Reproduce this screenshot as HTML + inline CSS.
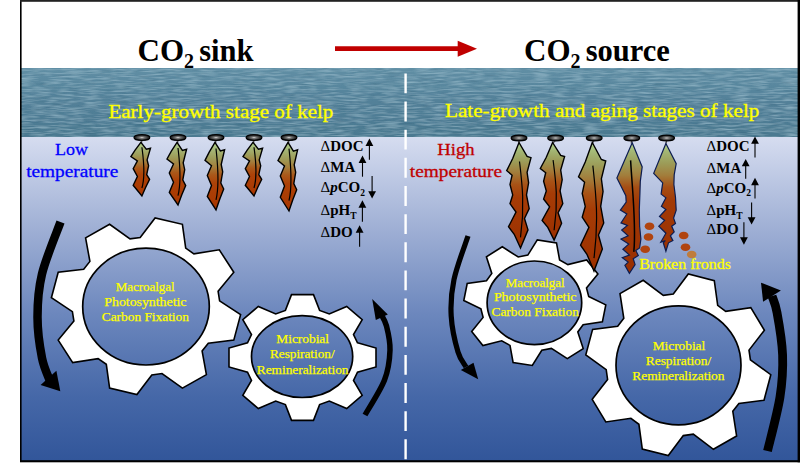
<!DOCTYPE html>
<html><head><meta charset="utf-8"><title>Kelp CO2 sink / source</title>
<style>
html,body{margin:0;padding:0;background:#fff;}
body{width:800px;height:468px;overflow:hidden;font-family:"Liberation Serif",serif;}
svg{display:block;}
text{font-family:"Liberation Serif",serif;}
.b{font-weight:bold;}
.y{fill:#ffff00;}
</style></head><body>
<svg width="800" height="468" viewBox="0 0 800 468">
<defs>
<linearGradient id="seaU" gradientUnits="userSpaceOnUse" x1="0" y1="136" x2="0" y2="460">
<stop offset="0" stop-color="#d6ddf0"/>
<stop offset="0.25" stop-color="#a6b5d8"/>
<stop offset="0.55" stop-color="#6c87bd"/>
<stop offset="0.8" stop-color="#4668a8"/>
<stop offset="1" stop-color="#32569a"/>
</linearGradient>
<linearGradient id="kg" x1="0" y1="0" x2="0" y2="1">
<stop offset="0" stop-color="#b0d28a"/>
<stop offset="0.12" stop-color="#a4b474"/>
<stop offset="0.24" stop-color="#9e9c58"/>
<stop offset="0.36" stop-color="#a47e3c"/>
<stop offset="0.48" stop-color="#aa581a"/>
<stop offset="0.6" stop-color="#ac4208"/>
<stop offset="1" stop-color="#a83600"/>
</linearGradient>
<linearGradient id="kg2" x1="0" y1="0" x2="0" y2="1">
<stop offset="0" stop-color="#b0d28a"/>
<stop offset="0.09" stop-color="#a2b472"/>
<stop offset="0.18" stop-color="#9c9c58"/>
<stop offset="0.28" stop-color="#a27e3c"/>
<stop offset="0.4" stop-color="#a85216"/>
<stop offset="0.52" stop-color="#a63c06"/>
<stop offset="1" stop-color="#9c3000"/>
</linearGradient>
<linearGradient id="kgA" gradientUnits="userSpaceOnUse" x1="0" y1="142" x2="0" y2="275">
<stop offset="0" stop-color="#b0d28a"/>
<stop offset="0.08" stop-color="#a2b472"/>
<stop offset="0.16" stop-color="#9c9c58"/>
<stop offset="0.25" stop-color="#a27e3c"/>
<stop offset="0.34" stop-color="#a64e14"/>
<stop offset="0.44" stop-color="#a23a06"/>
<stop offset="1" stop-color="#982e00"/>
</linearGradient>
<radialGradient id="fl" cx="0.5" cy="0.5" r="0.55">
<stop offset="0" stop-color="#d0d0d0"/>
<stop offset="0.3" stop-color="#747474"/>
<stop offset="0.7" stop-color="#303030"/>
<stop offset="1" stop-color="#141414"/>
</radialGradient>
<linearGradient id="wv" x1="0" y1="0" x2="0" y2="1">
<stop offset="0" stop-color="#618fa5"/>
<stop offset="0.45" stop-color="#538199"/>
<stop offset="1" stop-color="#4b7990"/>
</linearGradient>
<filter id="waves" x="0" y="0" width="100%" height="100%">
<feTurbulence type="fractalNoise" baseFrequency="0.06 0.55" numOctaves="2" seed="11" result="n"/>
<feColorMatrix in="n" type="matrix" values="0 0 0 0 0  0 0 0 0 0  0 0 0 0 0  1.3 0 0 0 -0.52" result="a"/>
<feFlood flood-color="#9cc0d0"/>
<feComposite in2="a" operator="in" result="hi"/>
<feColorMatrix in="n" type="matrix" values="0 0 0 0 0  0 0 0 0 0  0 0 0 0 0  0 -1.3 0 0 0.52" result="a2"/>
<feFlood flood-color="#2e5c74"/>
<feComposite in2="a2" operator="in" result="lo"/>
<feMerge><feMergeNode in="SourceGraphic"/><feMergeNode in="hi"/><feMergeNode in="lo"/></feMerge>
</filter>
<clipPath id="wclip"><rect x="21" y="68" width="778" height="68.9"/></clipPath>
</defs>
<rect x="0" y="0" width="800" height="468" fill="#fff"/>
<rect x="21" y="136" width="778" height="325.5" fill="url(#seaU)"/>
<g clip-path="url(#wclip)"><rect x="21" y="68" width="778" height="70" fill="url(#wv)" filter="url(#waves)"/></g>
<line x1="405.6" y1="73.4" x2="405.6" y2="459.5" stroke="#fff" stroke-width="2.4" stroke-dasharray="19.9 8.25"/>
<text class="b" x="137.5" y="61" font-size="31">CO<tspan font-size="20" dy="6.5">2</tspan><tspan dy="-6.5" dx="-2.5" font-size="30.5"> sink</tspan></text>
<text class="b" x="524" y="61" font-size="31">CO<tspan font-size="20" dy="6.5">2</tspan><tspan dy="-6.5" dx="-2.5" font-size="30.5"> source</tspan></text>
<line x1="335" y1="48.7" x2="459" y2="48.7" stroke="#c00000" stroke-width="4.8"/>
<path d="M477 48.8 L457.7 40.8 L457.7 56.8 Z" fill="#c00000"/>
<text class="y" stroke="#ffff00" stroke-width="0.35" x="108.4" y="117.5" font-size="19.5" textLength="225.0" lengthAdjust="spacingAndGlyphs">Early-growth stage of kelp</text>
<text class="y" stroke="#ffff00" stroke-width="0.35" x="445.0" y="117.2" font-size="19.5" textLength="314.4" lengthAdjust="spacingAndGlyphs">Late-growth and aging stages of kelp</text>
<text fill="#0000ff" stroke="#0000ff" stroke-width="0.30" x="55.1" y="155.3" font-size="17.5" textLength="33.0" lengthAdjust="spacingAndGlyphs">Low</text>
<text fill="#0000ff" stroke="#0000ff" stroke-width="0.30" x="26.2" y="177.0" font-size="17.5" textLength="92.1" lengthAdjust="spacingAndGlyphs">temperature</text>
<text fill="#c00000" stroke="#c00000" stroke-width="0.30" x="437.3" y="155.3" font-size="17.5" textLength="37.2" lengthAdjust="spacingAndGlyphs">High</text>
<text fill="#c00000" stroke="#c00000" stroke-width="0.30" x="409.8" y="177.0" font-size="17.5" textLength="92.2" lengthAdjust="spacingAndGlyphs">temperature</text>
<path d="M219.6 300.8 L240.6 314.7 L233.8 340.1 L208.3 343.2 L202.1 351.0 L206.4 374.6 L182.4 388.1 L162.0 373.5 L151.8 374.9 L136.9 394.5 L109.6 388.1 L106.3 364.3 L98.1 358.6 L72.7 362.6 L58.2 340.1 L73.9 321.1 L72.4 311.6 L51.4 297.7 L58.2 272.3 L83.7 269.2 L89.9 261.4 L85.6 237.8 L109.6 224.3 L130.0 238.9 L140.2 237.5 L155.1 217.9 L182.4 224.3 L185.7 248.1 L193.9 253.8 L219.3 249.8 L233.8 272.3 L218.1 291.3 Z" fill="#fff" stroke="#000" stroke-width="1.6" stroke-linejoin="miter"/>
<ellipse cx="146.0" cy="306.6" rx="63.3" ry="58.4" fill="url(#seaU)" stroke="#000" stroke-width="1.7"/>
<path d="M357.5 342.8 L376.0 348.1 L376.0 366.9 L357.5 372.2 L353.5 380.4 L362.2 395.3 L346.7 408.6 L329.3 401.1 L319.6 404.6 L313.5 420.4 L291.5 420.4 L285.4 404.6 L275.7 401.1 L258.3 408.6 L242.8 395.3 L251.5 380.4 L247.5 372.2 L229.0 366.9 L229.0 348.1 L247.5 342.8 L251.5 334.6 L242.8 319.7 L258.3 306.4 L275.7 313.9 L285.4 310.4 L291.5 294.6 L313.5 294.6 L319.6 310.4 L329.3 313.9 L346.7 306.4 L362.2 319.7 L353.5 334.6 Z" fill="#fff" stroke="#000" stroke-width="1.6" stroke-linejoin="miter"/>
<ellipse cx="302.1" cy="356.6" rx="50.6" ry="40.9" fill="url(#seaU)" stroke="#000" stroke-width="1.7"/>
<path d="M588.7 296.5 L605.8 304.9 L602.4 321.9 L583.1 324.7 L577.8 332.0 L583.2 348.6 L567.3 358.6 L551.4 348.4 L541.8 350.3 L532.3 365.5 L513.1 362.5 L510.0 345.4 L501.7 340.8 L482.9 345.5 L471.7 331.4 L483.1 317.4 L480.9 308.9 L463.8 300.5 L467.2 283.5 L486.5 280.7 L491.8 273.4 L486.4 256.8 L502.3 246.8 L518.2 257.0 L527.8 255.1 L537.3 239.9 L556.5 242.9 L559.6 260.0 L567.9 264.6 L586.7 259.9 L597.9 274.0 L586.5 288.0 Z" fill="#fff" stroke="#000" stroke-width="1.6" stroke-linejoin="miter"/>
<ellipse cx="534.4" cy="302.8" rx="47.3" ry="41.8" fill="url(#seaU)" stroke="#000" stroke-width="1.7"/>
<path d="M750.4 359.9 L770.8 374.7 L764.0 400.2 L738.9 403.4 L732.8 411.3 L736.6 436.0 L713.4 449.3 L693.3 434.2 L683.3 435.6 L668.3 455.6 L642.3 449.0 L638.9 424.3 L630.9 418.3 L605.8 422.0 L592.2 399.3 L607.6 379.5 L606.2 369.7 L585.8 354.9 L592.6 329.4 L617.7 326.2 L623.8 318.3 L620.0 293.6 L643.2 280.3 L663.3 295.4 L673.3 294.0 L688.3 274.0 L714.3 280.6 L717.7 305.3 L725.7 311.3 L750.8 307.6 L764.4 330.3 L749.0 350.1 Z" fill="#fff" stroke="#000" stroke-width="1.6" stroke-linejoin="miter"/>
<ellipse cx="678.5" cy="365.3" rx="62.5" ry="59.5" fill="url(#seaU)" stroke="#000" stroke-width="1.7"/>
<text class="y" stroke="#ffff00" stroke-width="0.25" x="115.7" y="291.1" font-size="12.2" textLength="59.0" lengthAdjust="spacingAndGlyphs">Macroalgal</text>
<text class="y" stroke="#ffff00" stroke-width="0.25" x="104.3" y="306.4" font-size="12.2" textLength="82.2" lengthAdjust="spacingAndGlyphs">Photosynthetic</text>
<text class="y" stroke="#ffff00" stroke-width="0.25" x="101.8" y="321.4" font-size="12.2" textLength="87.1" lengthAdjust="spacingAndGlyphs">Carbon Fixation</text>
<text class="y" stroke="#ffff00" stroke-width="0.25" x="276.3" y="342.8" font-size="12.2" textLength="52.7" lengthAdjust="spacingAndGlyphs">Microbial</text>
<text class="y" stroke="#ffff00" stroke-width="0.25" x="270.0" y="358.3" font-size="12.2" textLength="64.6" lengthAdjust="spacingAndGlyphs">Respiration/</text>
<text class="y" stroke="#ffff00" stroke-width="0.25" x="256.8" y="373.6" font-size="12.2" textLength="91.7" lengthAdjust="spacingAndGlyphs">Remineralization</text>
<text class="y" stroke="#ffff00" stroke-width="0.25" x="505.7" y="286.5" font-size="12.2" textLength="59.0" lengthAdjust="spacingAndGlyphs">Macroalgal</text>
<text class="y" stroke="#ffff00" stroke-width="0.25" x="493.9" y="301.4" font-size="12.2" textLength="82.6" lengthAdjust="spacingAndGlyphs">Photosynthetic</text>
<text class="y" stroke="#ffff00" stroke-width="0.25" x="491.5" y="316.4" font-size="12.2" textLength="87.4" lengthAdjust="spacingAndGlyphs">Carbon Fixation</text>
<text class="y" stroke="#ffff00" stroke-width="0.25" x="652.7" y="349.8" font-size="12.2" textLength="52.5" lengthAdjust="spacingAndGlyphs">Microbial</text>
<text class="y" stroke="#ffff00" stroke-width="0.25" x="645.8" y="364.8" font-size="12.2" textLength="65.4" lengthAdjust="spacingAndGlyphs">Respiration/</text>
<text class="y" stroke="#ffff00" stroke-width="0.25" x="632.3" y="380.0" font-size="12.2" textLength="92.2" lengthAdjust="spacingAndGlyphs">Remineralization</text>
<text class="y" stroke="#ffff00" stroke-width="0.30" x="639.2" y="268.8" font-size="15.5" textLength="91.8" lengthAdjust="spacingAndGlyphs">Broken fronds</text>
<line x1="141.9" y1="139.6" x2="141.4" y2="143.1" stroke="#555" stroke-width="1.4"/><ellipse cx="141.9" cy="137.6" rx="7.9" ry="2.9" fill="url(#fl)" stroke="#000" stroke-width="1.2"/>
<g transform="translate(140.9 142.4) scale(1.000 0.536)"><path d="M0 0 L5.4 12.7 L9.6 10.9 L6.2 32.7 L7.7 43.6 L5.8 60 L8.7 69 L4.8 83.6 L1 100 L-7.7 80 L-3.5 63.6 L-7.7 49 L-3.5 34.5 L-10 26.5 L-5.8 14.5 Z" fill="url(#kg)" stroke="#000" stroke-width="1.4" vector-effect="non-scaling-stroke" stroke-linejoin="miter"/><path d="M1 9 C2.5 30 5 60 1 85" fill="none" stroke="#000" stroke-width="1.2" vector-effect="non-scaling-stroke"/></g>
<line x1="178.0" y1="139.6" x2="177.5" y2="143.1" stroke="#555" stroke-width="1.4"/><ellipse cx="178.0" cy="137.6" rx="7.9" ry="2.9" fill="url(#fl)" stroke="#000" stroke-width="1.2"/>
<g transform="translate(177.0 142.4) scale(1.000 0.626)"><path d="M0 0 L5.4 12.7 L9.6 10.9 L6.2 32.7 L7.7 43.6 L5.8 60 L8.7 69 L4.8 83.6 L1 100 L-7.7 80 L-3.5 63.6 L-7.7 49 L-3.5 34.5 L-10 26.5 L-5.8 14.5 Z" fill="url(#kg)" stroke="#000" stroke-width="1.4" vector-effect="non-scaling-stroke" stroke-linejoin="miter"/><path d="M1 9 C2.5 30 5 60 1 85" fill="none" stroke="#000" stroke-width="1.2" vector-effect="non-scaling-stroke"/></g>
<line x1="216.0" y1="139.6" x2="215.5" y2="143.1" stroke="#555" stroke-width="1.4"/><ellipse cx="216.0" cy="137.6" rx="7.9" ry="2.9" fill="url(#fl)" stroke="#000" stroke-width="1.2"/>
<g transform="translate(215.0 142.4) scale(1.000 0.676)"><path d="M0 0 L5.4 12.7 L9.6 10.9 L6.2 32.7 L7.7 43.6 L5.8 60 L8.7 69 L4.8 83.6 L1 100 L-7.7 80 L-3.5 63.6 L-7.7 49 L-3.5 34.5 L-10 26.5 L-5.8 14.5 Z" fill="url(#kg)" stroke="#000" stroke-width="1.4" vector-effect="non-scaling-stroke" stroke-linejoin="miter"/><path d="M1 9 C2.5 30 5 60 1 85" fill="none" stroke="#000" stroke-width="1.2" vector-effect="non-scaling-stroke"/></g>
<line x1="254.0" y1="139.6" x2="253.5" y2="143.1" stroke="#555" stroke-width="1.4"/><ellipse cx="254.0" cy="137.6" rx="7.9" ry="2.9" fill="url(#fl)" stroke="#000" stroke-width="1.2"/>
<g transform="translate(253.0 142.4) scale(1.000 0.536)"><path d="M0 0 L5.4 12.7 L9.6 10.9 L6.2 32.7 L7.7 43.6 L5.8 60 L8.7 69 L4.8 83.6 L1 100 L-7.7 80 L-3.5 63.6 L-7.7 49 L-3.5 34.5 L-10 26.5 L-5.8 14.5 Z" fill="url(#kg)" stroke="#000" stroke-width="1.4" vector-effect="non-scaling-stroke" stroke-linejoin="miter"/><path d="M1 9 C2.5 30 5 60 1 85" fill="none" stroke="#000" stroke-width="1.2" vector-effect="non-scaling-stroke"/></g>
<line x1="289.0" y1="139.6" x2="288.5" y2="143.1" stroke="#555" stroke-width="1.4"/><ellipse cx="289.0" cy="137.6" rx="7.9" ry="2.9" fill="url(#fl)" stroke="#000" stroke-width="1.2"/>
<g transform="translate(288.0 142.4) scale(1.000 0.686)"><path d="M0 0 L5.4 12.7 L9.6 10.9 L6.2 32.7 L7.7 43.6 L5.8 60 L8.7 69 L4.8 83.6 L1 100 L-7.7 80 L-3.5 63.6 L-7.7 49 L-3.5 34.5 L-10 26.5 L-5.8 14.5 Z" fill="url(#kg)" stroke="#000" stroke-width="1.4" vector-effect="non-scaling-stroke" stroke-linejoin="miter"/><path d="M1 9 C2.5 30 5 60 1 85" fill="none" stroke="#000" stroke-width="1.2" vector-effect="non-scaling-stroke"/></g>
<line x1="519.0" y1="140.0" x2="519.0" y2="143.5" stroke="#555" stroke-width="1.4"/><ellipse cx="519.0" cy="138.0" rx="7.9" ry="2.9" fill="url(#fl)" stroke="#000" stroke-width="1.2"/>
<g transform="translate(519.0 142.5) scale(1.000 1.055)"><path d="M0 0 L8.1 13.2 L12 14.4 L8.1 28.2 L9.6 38.2 L7.5 49.7 L10.2 62.6 L5.5 72 L9 82.8 L1.5 100 L-4.8 87 L-10.5 79.9 L-3 66 L-9 58 L-6.3 49.7 L-9 39.7 L-6.9 31 L-12.3 26.7 L-6.3 15.2 Z" fill="url(#kg2)" stroke="#000" stroke-width="1.4" vector-effect="non-scaling-stroke" stroke-linejoin="miter"/><path d="M0.5 18 C3 38 6 60 1.5 90" fill="none" stroke="#000" stroke-width="1.2" vector-effect="non-scaling-stroke"/></g>
<line x1="555.6" y1="140.0" x2="552.6" y2="143.5" stroke="#555" stroke-width="1.4"/><ellipse cx="555.6" cy="138.0" rx="7.9" ry="2.9" fill="url(#fl)" stroke="#000" stroke-width="1.2"/>
<g transform="translate(552.6 142.5) scale(1.000 0.975)"><path d="M0 0 L8.1 13.2 L12 14.4 L8.1 28.2 L9.6 38.2 L7.5 49.7 L10.2 62.6 L5.5 72 L9 82.8 L1.5 100 L-4.8 87 L-10.5 79.9 L-3 66 L-9 58 L-6.3 49.7 L-9 39.7 L-6.9 31 L-12.3 26.7 L-6.3 15.2 Z" fill="url(#kg2)" stroke="#000" stroke-width="1.4" vector-effect="non-scaling-stroke" stroke-linejoin="miter"/><path d="M0.5 18 C3 38 6 60 1.5 90" fill="none" stroke="#000" stroke-width="1.2" vector-effect="non-scaling-stroke"/></g>
<line x1="594.2" y1="140.0" x2="592.3" y2="143.5" stroke="#555" stroke-width="1.4"/><ellipse cx="594.2" cy="138.0" rx="7.9" ry="2.9" fill="url(#fl)" stroke="#000" stroke-width="1.2"/>
<g transform="translate(592.3 142.5) scale(1.120 1.285)"><path d="M0 0 L8.1 13.2 L12 14.4 L8.1 28.2 L9.6 38.2 L7.5 49.7 L10.2 62.6 L5.5 72 L9 82.8 L1.5 100 L-4.8 87 L-10.5 79.9 L-3 66 L-9 58 L-6.3 49.7 L-9 39.7 L-6.9 31 L-12.3 26.7 L-6.3 15.2 Z" fill="url(#kg2)" stroke="#000" stroke-width="1.4" vector-effect="non-scaling-stroke" stroke-linejoin="miter"/><path d="M0.5 18 C3 38 6 60 1.5 90" fill="none" stroke="#000" stroke-width="1.2" vector-effect="non-scaling-stroke"/></g>
<line x1="631.8" y1="140.0" x2="631.3" y2="143.5" stroke="#555" stroke-width="1.4"/><ellipse cx="631.8" cy="138.0" rx="7.9" ry="2.9" fill="url(#fl)" stroke="#000" stroke-width="1.2"/>
<path d="M632.2 142.8 L642.2 166.9 L640.3 181.3 L639.9 194.1 L639.3 210.1 L639.6 226.2 L640.9 239.0 L639.6 247.9 L635.8 250.5 L638.3 255.6 L633.2 258.8 L635.1 264.6 L629.4 273.3 L624.9 265.3 L628.1 262.1 L622.3 257.6 L629.4 255.0 L622.9 249.2 L628.7 244.1 L621.0 239.0 L628.1 235.8 L621.7 230.0 L627.4 225.5 L621.0 222.9 L626.8 214.0 L620.4 210.1 L626.2 202.1 L625.8 195.7 L616.9 178.1 Z" fill="url(#kgA)" stroke="#0c1c50" stroke-width="1.2" stroke-linejoin="miter"/>
<path d="M630.6 160.4 C632.6 194.1 636.4 226.2 633.8 251.8" fill="none" stroke="#000" stroke-width="1.5"/>
<line x1="666.6" y1="140.0" x2="666.1" y2="143.5" stroke="#555" stroke-width="1.4"/><ellipse cx="666.6" cy="138.0" rx="7.9" ry="2.9" fill="url(#fl)" stroke="#000" stroke-width="1.2"/>
<path d="M665.9 143.5 L676.2 163.7 L674.2 174.9 L673.9 184.5 L675.5 197.3 L676.2 210.1 L673.6 218.1 L675.5 223.6 L671.7 226.2 L674.2 231.9 L670.4 235.8 L672.9 240.6 L668.5 242.8 L665.9 251.2 L663.3 242.8 L665.3 240.6 L660.8 242.2 L665.9 233.2 L658.8 226.2 L664.6 220.4 L659.5 216.5 L665.9 209.5 L661.4 206.3 L665.9 197.9 L661.1 194.1 L662.7 182.9 L653.7 173.3 Z" fill="url(#kgA)" stroke="#0c1c50" stroke-width="1.2" stroke-linejoin="miter"/>
<ellipse cx="649.5" cy="226.2" rx="4.8" ry="3.8" fill="#b04410"/>
<ellipse cx="648.5" cy="237.0" rx="4.8" ry="3.8" fill="#b04410"/>
<ellipse cx="645.2" cy="249.3" rx="4.8" ry="3.8" fill="#b04410"/>
<ellipse cx="683.7" cy="235.5" rx="4.8" ry="3.8" fill="#b04410"/>
<ellipse cx="685.5" cy="247.2" rx="4.8" ry="3.8" fill="#b04410"/>
<ellipse cx="691.7" cy="254.5" rx="4.8" ry="3.8" fill="#bf7c3c"/>
<text class="b" x="320.6" y="151.4" font-size="15"><tspan font-weight="normal">Δ</tspan>DOC</text>
<text class="b" x="320.6" y="172.2" font-size="15"><tspan font-weight="normal">Δ</tspan>MA</text>
<text class="b" x="320.6" y="192.4" font-size="15"><tspan font-weight="normal">Δ</tspan><tspan font-style="italic">p</tspan>CO<tspan font-size="9.5" dy="3.6">2</tspan></text>
<text class="b" x="320.6" y="214.9" font-size="15"><tspan font-weight="normal">Δ</tspan>pH<tspan font-size="9.5" dy="3.6">T</tspan></text>
<text class="b" x="320.6" y="237.1" font-size="15"><tspan font-weight="normal">Δ</tspan>DO</text>
<text class="b" x="706.6" y="151.4" font-size="15"><tspan font-weight="normal">Δ</tspan>DOC</text>
<text class="b" x="706.6" y="172.5" font-size="15"><tspan font-weight="normal">Δ</tspan>MA</text>
<text class="b" x="706.6" y="192.6" font-size="15"><tspan font-weight="normal">Δ</tspan><tspan font-style="italic">p</tspan>CO<tspan font-size="9.5" dy="3.6">2</tspan></text>
<text class="b" x="706.6" y="214.9" font-size="15"><tspan font-weight="normal">Δ</tspan>pH<tspan font-size="9.5" dy="3.6">T</tspan></text>
<text class="b" x="706.6" y="234.3" font-size="15"><tspan font-weight="normal">Δ</tspan>DO</text>
<line x1="369.4" y1="141.5" x2="369.4" y2="159.7" stroke="#000" stroke-width="1.1"/><path d="M369.4 138.5 l-3.9 7.4 h7.8 Z" fill="#000"/>
<line x1="362.5" y1="158.6" x2="362.5" y2="176.7" stroke="#000" stroke-width="1.1"/><path d="M362.5 155.6 l-3.9 7.4 h7.8 Z" fill="#000"/>
<line x1="372.1" y1="176.0" x2="372.1" y2="195.6" stroke="#000" stroke-width="1.1"/><path d="M372.1 198.6 l-3.9 -7.4 h7.8 Z" fill="#000"/>
<line x1="362.4" y1="203.3" x2="362.4" y2="221.8" stroke="#000" stroke-width="1.1"/><path d="M362.4 200.3 l-3.9 7.4 h7.8 Z" fill="#000"/>
<line x1="359.6" y1="228.3" x2="359.6" y2="246.8" stroke="#000" stroke-width="1.1"/><path d="M359.6 225.3 l-3.9 7.4 h7.8 Z" fill="#000"/>
<line x1="755.0" y1="139.4" x2="755.0" y2="157.5" stroke="#000" stroke-width="1.1"/><path d="M755.0 136.4 l-3.9 7.4 h7.8 Z" fill="#000"/>
<line x1="745.7" y1="161.9" x2="745.7" y2="178.8" stroke="#000" stroke-width="1.1"/><path d="M745.7 158.9 l-3.9 7.4 h7.8 Z" fill="#000"/>
<line x1="755.0" y1="180.8" x2="755.0" y2="198.6" stroke="#000" stroke-width="1.1"/><path d="M755.0 177.8 l-3.9 7.4 h7.8 Z" fill="#000"/>
<line x1="751.6" y1="202.4" x2="751.6" y2="221.6" stroke="#000" stroke-width="1.1"/><path d="M751.6 224.6 l-3.9 -7.4 h7.8 Z" fill="#000"/>
<line x1="743.9" y1="222.2" x2="743.9" y2="241.7" stroke="#000" stroke-width="1.1"/><path d="M743.9 244.7 l-3.9 -7.4 h7.8 Z" fill="#000"/>
<path d="M60.5 222.0 C57.4 230.7 45.8 258.2 42.0 274.0 C38.2 289.8 37.5 303.0 37.5 317.0 C37.5 331.0 39.9 347.3 42.0 358.0 C44.1 368.7 48.7 377.2 50.0 381.0" fill="none" stroke="#000" stroke-width="8.5"/><path d="M60.3 391.3 L56.4 370.8 L40.6 384.9 Z" fill="#000"/>
<path d="M365.0 415.0 C368.2 409.2 380.3 390.8 384.5 380.0 C388.7 369.2 389.7 359.0 390.0 350.0 C390.3 341.0 388.0 332.0 386.5 326.0 C385.0 320.0 381.9 316.0 381.0 314.0" fill="none" stroke="#000" stroke-width="5.5"/><path d="M372.2 299.0 L387.8 314.5 L375.8 319.9 Z" fill="#000"/>
<path d="M468.0 236.0 C465.7 243.2 456.8 266.2 454.0 279.5 C451.2 292.8 450.5 303.9 451.2 316.0 C451.9 328.1 455.5 343.5 458.0 352.0 C460.5 360.5 464.7 364.5 466.0 367.0" fill="none" stroke="#000" stroke-width="5.2"/><path d="M478.2 379.2 L460.8 370.1 L473.5 362.8 Z" fill="#000"/>
<path d="M767.5 451.0 C769.6 442.0 777.5 413.0 780.0 397.0 C782.5 381.0 783.1 369.1 782.6 355.0 C782.1 340.9 778.8 322.3 777.0 312.5 C775.2 302.7 772.8 298.8 772.0 296.0" fill="none" stroke="#000" stroke-width="8.8"/><path d="M761.0 282.7 L780.9 290.4 L763.1 301.8 Z" fill="#000"/>
<rect x="20" y="0" width="1.6" height="462" fill="#000"/>
<rect x="20" y="0" width="780" height="1.8" fill="#222"/>
<rect x="797.6" y="0" width="2.4" height="462.3" fill="#000"/>
<rect x="20" y="460.2" width="780" height="2.1" fill="#000"/>
</svg>
</body></html>
